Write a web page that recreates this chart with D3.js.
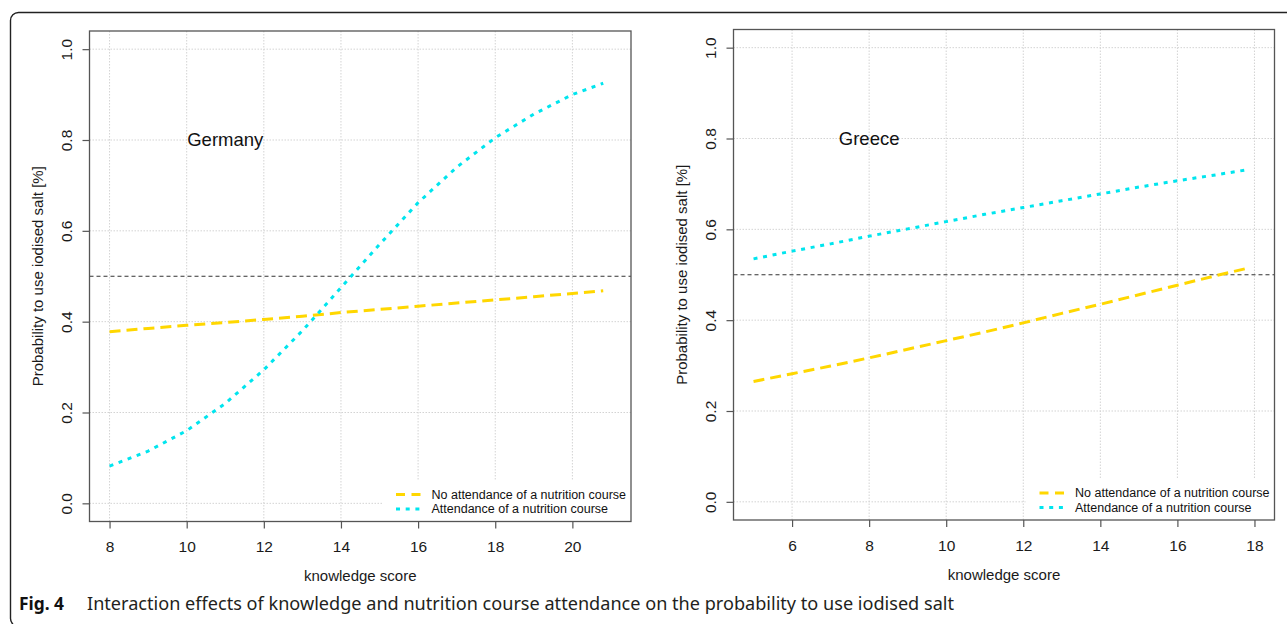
<!DOCTYPE html>
<html>
<head>
<meta charset="utf-8">
<script src="https://cdn.jsdelivr.net/npm/d3@7"></script>
<style>
  body { margin: 0; background: #fff; }
  svg { display: block; }
</style>
</head>
<body>
<div id="chart"></div>
<script>
// knowledge score values at which the fitted curves were read
const germanyScore = [8, 9, 10, 11, 12, 13, 14, 15, 16, 17, 18, 19, 20, 20.8];
const germanyNoCourse = [0.378, 0.385, 0.392, 0.398, 0.405, 0.412, 0.420, 0.427, 0.434, 0.441, 0.448, 0.455, 0.462, 0.468];
const germanyCourse = [0.082, 0.115, 0.160, 0.220, 0.294, 0.380, 0.475, 0.570, 0.662, 0.740, 0.805, 0.857, 0.900, 0.925];

const greeceScore = [5, 6, 7, 8, 9, 10, 11, 12, 13, 14, 15, 16, 17, 17.8];
const greeceNoCourse = [0.265, 0.282, 0.299, 0.317, 0.336, 0.355, 0.374, 0.394, 0.415, 0.435, 0.456, 0.477, 0.498, 0.514];
const greeceCourse = [0.535, 0.552, 0.568, 0.585, 0.601, 0.617, 0.633, 0.648, 0.663, 0.678, 0.693, 0.707, 0.720, 0.731];

const germanyTicks = [8, 10, 12, 14, 16, 18, 20];
const greeceTicks = [6, 8, 10, 12, 14, 16, 18];
const probTicks = [0, 0.2, 0.4, 0.6, 0.8, 1.0];
const legendLabels = ["No attendance of a nutrition course", "Attendance of a nutrition course"];
const panelTitles = ["Germany", "Greece"];
const caption = "Interaction effects of knowledge and nutrition course attendance on the probability to use iodised salt";

const width = 1287, height = 624;
const font = "'Liberation Sans', Arial, sans-serif";
const yellow = "#ffd700", cyan = "#00e5ee";

const svg = d3.select("#chart").append("svg")
    .attr("width", width)
    .attr("height", height);

// outer figure frame
svg.append("rect")
    .attr("x", 10.5).attr("y", 12.5)
    .attr("width", 1300).attr("height", 614)
    .attr("rx", 8)
    .attr("fill", "none")
    .attr("stroke", "#222")
    .attr("stroke-width", 1.4);

const panels = [
    { title: panelTitles[0], titleX: 11, xr: [8, 21], ticks: germanyTicks,
      score: germanyScore, no: germanyNoCourse, yes: germanyCourse,
      left: 89.5, right: 631, top: 31, bottom: 521.5 },
    { title: panelTitles[1], titleX: 8, xr: [5, 18], ticks: greeceTicks,
      score: greeceScore, no: greeceNoCourse, yes: greeceCourse,
      left: 733.5, right: 1274.5, top: 29.5, bottom: 520 }
];

panels.forEach(p => {
    const pad = (p.xr[1] - p.xr[0]) * 0.04;
    const x = d3.scaleLinear().domain([p.xr[0] - pad, p.xr[1] + pad]).range([p.left, p.right]);
    const y = d3.scaleLinear().domain([-0.04, 1.04]).range([p.bottom, p.top]);

    const g = svg.append("g");

    // grid
    g.append("g").selectAll("line")
        .data(p.ticks)
        .join("line")
        .attr("x1", d => x(d)).attr("x2", d => x(d))
        .attr("y1", p.top).attr("y2", p.bottom)
        .attr("stroke", "#d3d3d3")
        .attr("stroke-dasharray", "1.5,1.5");
    g.append("g").selectAll("line")
        .data(probTicks)
        .join("line")
        .attr("x1", p.left).attr("x2", p.right)
        .attr("y1", d => y(d)).attr("y2", d => y(d))
        .attr("stroke", "#d3d3d3")
        .attr("stroke-dasharray", "1.5,1.5");

    // legend background hides the grid
    const lw = 249, lh = 41;
    const lx = p.right - lw, ly = p.bottom - lh;
    g.append("rect")
        .attr("x", lx).attr("y", ly)
        .attr("width", lw).attr("height", lh)
        .attr("fill", "#fff");

    // 0.5 reference line
    g.append("line")
        .attr("x1", p.left).attr("x2", p.right)
        .attr("y1", y(0.5)).attr("y2", y(0.5))
        .attr("stroke", "#333")
        .attr("stroke-width", 1)
        .attr("stroke-dasharray", "4,3");

    const line = d3.line().x(d => x(d[0])).y(d => y(d[1]));

    g.append("path")
        .datum(d3.zip(p.score, p.no))
        .attr("d", line)
        .attr("fill", "none")
        .attr("stroke", yellow)
        .attr("stroke-width", 3)
        .attr("stroke-dasharray", "11,6");

    g.append("path")
        .datum(d3.zip(p.score, p.yes))
        .attr("d", line)
        .attr("fill", "none")
        .attr("stroke", cyan)
        .attr("stroke-width", 3)
        .attr("stroke-dasharray", "4,5.7");

    // box
    g.append("rect")
        .attr("x", p.left).attr("y", p.top)
        .attr("width", p.right - p.left).attr("height", p.bottom - p.top)
        .attr("fill", "none")
        .attr("stroke", "#555")
        .attr("stroke-width", 1.3);

    // axes
    const xAxis = g.append("g")
        .attr("transform", `translate(0,${p.bottom})`)
        .call(d3.axisBottom(x).tickValues(p.ticks).tickSize(7).tickFormat(d3.format("d")));
    xAxis.select(".domain").remove();
    xAxis.selectAll("line").attr("stroke", "#555").attr("stroke-width", 1.2);
    xAxis.selectAll("text")
        .attr("y", 30.5).attr("dy", null)
        .attr("font-family", font).attr("font-size", 15.5).attr("fill", "#1a1a1a");

    const yAxis = g.append("g")
        .attr("transform", `translate(${p.left},0)`)
        .call(d3.axisLeft(y).tickValues(probTicks).tickSize(7).tickFormat(d3.format(".1f")));
    yAxis.select(".domain").remove();
    yAxis.selectAll("line").attr("stroke", "#555").attr("stroke-width", 1.2);
    yAxis.selectAll("text")
        .attr("x", null).attr("dy", null)
        .attr("transform", "translate(-17.5,0) rotate(-90)")
        .attr("text-anchor", "middle")
        .attr("font-family", font).attr("font-size", 15.5).attr("fill", "#1a1a1a");

    // axis titles
    g.append("text")
        .attr("x", (p.left + p.right) / 2).attr("y", p.bottom + 59.5)
        .attr("text-anchor", "middle")
        .attr("font-family", font).attr("font-size", 15).attr("fill", "#1a1a1a")
        .text("knowledge score");
    g.append("text")
        .attr("transform", `translate(${p.left - 46.5},${(p.top + p.bottom) / 2}) rotate(-90)`)
        .attr("text-anchor", "middle")
        .attr("font-family", font).attr("font-size", 15).attr("fill", "#1a1a1a")
        .text("Probability to use iodised salt [%]");

    // panel title
    g.append("text")
        .attr("x", x(p.titleX)).attr("y", y(0.8))
        .attr("dy", "0.35em")
        .attr("text-anchor", "middle")
        .attr("font-family", font).attr("font-size", 18.5).attr("fill", "#111")
        .text(p.title);

    // legend
    const rows = [{ c: yellow, dash: "9,6.5" }, { c: cyan, dash: "4,5.7" }];
    rows.forEach((r, i) => {
        const ry = ly + 14 + i * 14.5;
        g.append("line")
            .attr("x1", lx + 14).attr("x2", lx + 39)
            .attr("y1", ry).attr("y2", ry)
            .attr("stroke", r.c).attr("stroke-width", 3)
            .attr("stroke-dasharray", r.dash);
        g.append("text")
            .attr("x", lx + 49.5).attr("y", ry)
            .attr("dy", "0.35em")
            .attr("font-family", font).attr("font-size", 12.5).attr("fill", "#111")
            .text(legendLabels[i]);
    });
});

// caption
const capFont = "'Noto Sans', 'Open Sans', sans-serif";
svg.append("text")
    .attr("x", 19).attr("y", 610)
    .attr("font-family", capFont).attr("font-size", 18.5).attr("font-weight", "bold")
    .attr("fill", "#111")
    .attr("textLength", 45).attr("lengthAdjust", "spacingAndGlyphs")
    .text("Fig. 4");
svg.append("text")
    .attr("x", 87).attr("y", 610)
    .attr("font-family", capFont).attr("font-size", 17.5)
    .attr("fill", "#231f20")
    .attr("textLength", 867).attr("lengthAdjust", "spacingAndGlyphs")
    .text(caption);
</script>
</body>
</html>
